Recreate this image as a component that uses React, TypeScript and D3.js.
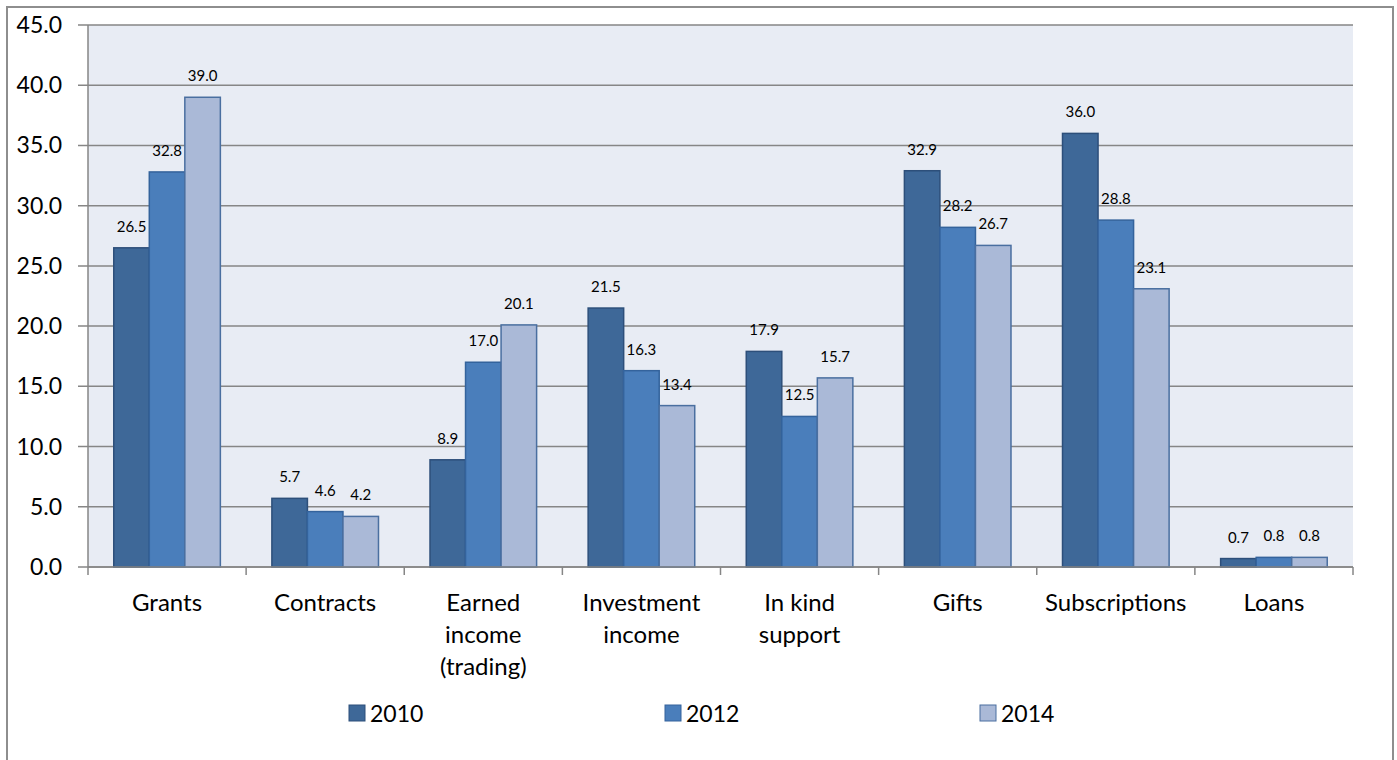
import React from 'react';
import * as d3 from 'd3';

const categories = ['Grants', 'Contracts', 'Earned income (trading)', 'Investment income', 'In kind support', 'Gifts', 'Subscriptions', 'Loans'];
const categoryLines = [['Grants'], ['Contracts'], ['Earned', 'income', '(trading)'], ['Investment', 'income'], ['In kind', 'support'], ['Gifts'], ['Subscriptions'], ['Loans']];
const seriesNames = ['2010', '2012', '2014'];
const values2010 = [26.5, 5.7, 8.9, 21.5, 17.9, 32.9, 36.0, 0.7];
const values2012 = [32.8, 4.6, 17.0, 16.3, 12.5, 28.2, 28.8, 0.8];
const values2014 = [39.0, 4.2, 20.1, 13.4, 15.7, 26.7, 23.1, 0.8];
const yTicks = [0, 5, 10, 15, 20, 25, 30, 35, 40, 45];

const series = [values2010, values2012, values2014];
const fills = ['#3E6898', '#4A7EBB', '#AAB9D7'];
const strokes = ['#2D4F7A', '#34639C', '#4A6FA0'];
const font = 'Lato, "Open Sans", sans-serif';

export default function App() {
  const width = 1397;
  const height = 760;
  const left = 88, right = 1353, top = 25, bottom = 567;

  const x = d3.scaleBand<string>().domain(categories).range([left, right]);
  const bw = x.bandwidth() / 4.45;
  const inner = d3.scaleBand<string>().domain(seriesNames).range([0, bw * 3]);
  const groupOffset = (x.bandwidth() - bw * 3) / 2;
  const y = d3.scaleLinear().domain([0, 45]).range([bottom, top]);

  const legendX = [349, 665, 980];

  return (
    <svg width={width} height={height} style={{ position: 'absolute', left: 0, top: 0 }} fontFamily={font}>
      <rect x={7} y={7} width={1386} height={780} fill="#fff" stroke="#8E8E8E" strokeWidth={2} />
      <rect x={left} y={top} width={right - left} height={bottom - top} fill="#E8ECF4" />
      {yTicks.map(t => (
        <g key={t}>
          <line x1={78} x2={right} y1={y(t)} y2={y(t)} stroke="#868686" strokeWidth={1.5} />
          <text x={62} y={y(t)} dy="0.35em" textAnchor="end" fontSize={23} fill="#000">{t.toFixed(1)}</text>
        </g>
      ))}
      <line x1={left} x2={left} y1={top} y2={bottom} stroke="#868686" strokeWidth={1.5} />
      {categories.map((c, i) => (
        <g key={c}>
          {series.map((vals, s) => {
            const bx = (x(c) as number) + groupOffset + (inner(seriesNames[s]) as number);
            return (
              <g key={s}>
                <rect x={bx} y={y(vals[i])} width={bw} height={y(0) - y(vals[i])} fill={fills[s]} stroke={strokes[s]} strokeWidth={1.5} />
                <text x={bx + bw / 2} y={y(vals[i]) - 16} textAnchor="middle" fontSize={15} fill="#000">{vals[i].toFixed(1)}</text>
              </g>
            );
          })}
          {categoryLines[i].map((ln, k) => (
            <text key={k} x={(x(c) as number) + x.bandwidth() / 2} y={611 + k * 32} textAnchor="middle" fontSize={24} fill="#000">{ln}</text>
          ))}
        </g>
      ))}
      <line x1={left} x2={right} y1={bottom} y2={bottom} stroke="#868686" strokeWidth={1.5} />
      {categories.concat(['end']).map((c, i) => {
        const tx = i < categories.length ? (x(c) as number) : right;
        return <line key={i} x1={tx} x2={tx} y1={bottom} y2={bottom + 8} stroke="#868686" strokeWidth={1.5} />;
      })}
      {seriesNames.map((n, s) => (
        <g key={n}>
          <rect x={legendX[s]} y={705} width={16} height={16} fill={fills[s]} stroke={strokes[s]} strokeWidth={1} />
          <text x={legendX[s] + 21} y={722} fontSize={23} fill="#000">{n}</text>
        </g>
      ))}
    </svg>
  );
}
